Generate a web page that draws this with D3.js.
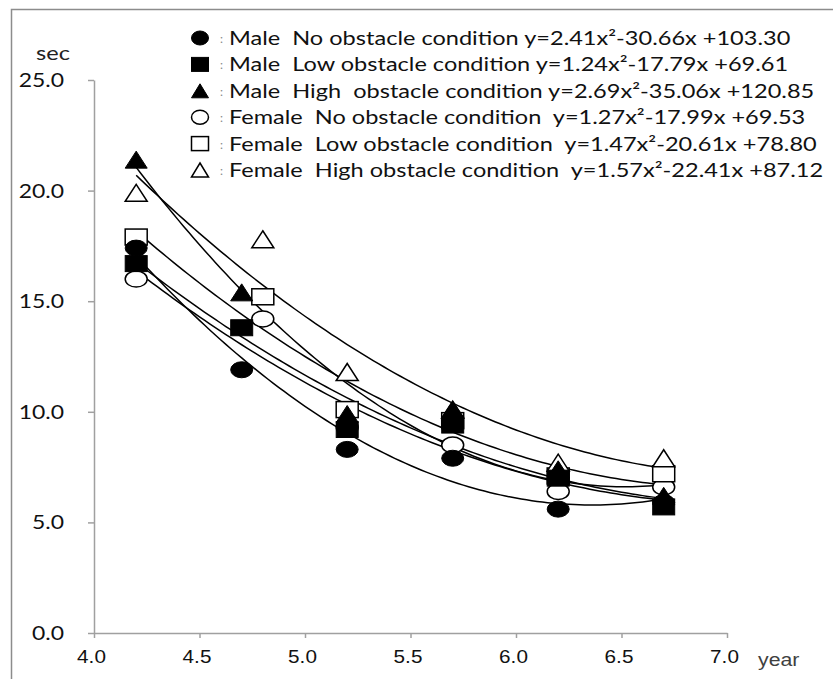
<!DOCTYPE html>
<html lang="en">
<head>
<meta charset="UTF-8">
<title>Obstacle walking time by age</title>
<style>
  body { margin: 0; background: #fff; }
  text { white-space: pre; }
</style>
</head>
<body>
<svg id="chart"></svg>
<script src="https://d3js.org/d3.v7.min.js"></script>
<script>
// ages where each group was measured
const agesMale = [4.2, 4.7, 5.2, 5.7, 6.2, 6.7];
const agesFemale = [4.2, 4.8, 5.2, 5.7, 6.2, 6.7];

// times in sec
const maleNo = [17.4, 11.9, 8.3, 7.9, 5.6, 5.9];
const maleLow = [16.7, 13.8, 9.2, 9.4, 7.0, 5.7];
const maleHigh = [21.4, 15.4, 9.9, 10.1, 7.4, 6.2];
const femaleNo = [16.0, 14.2, 9.3, 8.5, 6.4, 6.6];
const femaleLow = [17.9, 15.2, 10.1, 9.6, 7.1, 7.2];
const femaleHigh = [19.9, 17.8, 11.8, 10.1, 7.7, 7.9];

// quadratic trend coefficients [a, b, c] from the legend
const fitMaleNo = [2.41, -30.66, 103.30];
const fitMaleLow = [1.24, -17.79, 69.61];
const fitMaleHigh = [2.69, -35.06, 120.85];
const fitFemaleNo = [1.27, -17.99, 69.53];
const fitFemaleLow = [1.47, -20.61, 78.80];
const fitFemaleHigh = [1.57, -22.41, 87.12];

const legendLabels = [
  "Male  No obstacle condition y=2.41x²-30.66x +103.30",
  "Male  Low obstacle condition y=1.24x²-17.79x +69.61",
  "Male  High  obstacle condition y=2.69x²-35.06x +120.85",
  "Female  No obstacle condition  y=1.27x²-17.99x +69.53",
  "Female  Low obstacle condition  y=1.47x²-20.61x +78.80",
  "Female  High obstacle condition  y=1.57x²-22.41x +87.12"
];

const xTicks = [4.0, 4.5, 5.0, 5.5, 6.0, 6.5, 7.0];
const yTicks = [0, 5, 10, 15, 20, 25];

// draw order: females first, males over them
const series = [
  { ages: agesFemale, vals: femaleNo, fit: fitFemaleNo, shape: "circle", filled: false, leg: 3 },
  { ages: agesFemale, vals: femaleLow, fit: fitFemaleLow, shape: "square", filled: false, leg: 4 },
  { ages: agesFemale, vals: femaleHigh, fit: fitFemaleHigh, shape: "triangle", filled: false, leg: 5 },
  { ages: agesMale, vals: maleNo, fit: fitMaleNo, shape: "circle", filled: true, leg: 0 },
  { ages: agesMale, vals: maleLow, fit: fitMaleLow, shape: "square", filled: true, leg: 1 },
  { ages: agesMale, vals: maleHigh, fit: fitMaleHigh, shape: "triangle", filled: true, leg: 2 }
];

const W = 833, H = 679;
const stretch = 1.24; // the original is a bit wide

const svg = d3.select("#chart").attr("width", W).attr("height", H);

// outer frame
svg.append("rect")
  .attr("x", 11.5).attr("y", 9.5)
  .attr("width", W + 20).attr("height", H + 20)
  .attr("fill", "none").attr("stroke", "#8c8c8c").attr("stroke-width", 1.5);

const x = d3.scaleLinear().domain([4, 7]).range([94, 727]);
const y = d3.scaleLinear().domain([0, 25]).range([633, 80]);

const axisColor = "#a0a0a0";

// Y axis
const gy = svg.append("g")
  .attr("transform", "translate(" + x(4) + ",0)")
  .call(d3.axisLeft(y).tickValues(yTicks).tickSize(6).tickSizeOuter(0).tickFormat(d3.format(".1f")));
gy.selectAll("text")
  .attr("x", 0).attr("dy", null)
  .attr("transform", "translate(-30,6.5) scale(" + stretch + ",1)")
  .attr("fill", "#111")
  .style("font-family", "Lato, sans-serif").style("font-size", "18.5px");

// X axis
const gx = svg.append("g")
  .attr("transform", "translate(0," + y(0) + ")")
  .call(d3.axisBottom(x).tickValues(xTicks).tickSize(5).tickSizeOuter(0).tickFormat(d3.format(".1f")));
gx.selectAll("text")
  .attr("y", 0).attr("dy", null)
  .attr("transform", "translate(-3,30) scale(1.12,1)")
  .attr("fill", "#111")
  .style("font-family", "'Liberation Sans', Arial, sans-serif").style("font-size", "18.5px");

svg.selectAll(".domain, .tick line")
  .attr("stroke", axisColor).attr("stroke-width", 1.5);

// axis titles
svg.append("text")
  .attr("transform", "translate(36,60) scale(" + stretch + ",1)")
  .style("font-family", "Lato, sans-serif").style("font-size", "19px")
  .attr("fill", "#222")
  .text("sec");

svg.append("text")
  .attr("transform", "translate(758,666) scale(1.15,1)")
  .style("font-family", "'Liberation Sans', Arial, sans-serif").style("font-size", "18.5px")
  .attr("fill", "#404040")
  .text("year");

// trend curves
const line = d3.line().x(d => x(d[0])).y(d => y(d[1]));
const xs = d3.range(0, 101).map(i => 4.2 + i * (6.7 - 4.2) / 100);

svg.append("g").selectAll("path")
  .data(series).enter()
  .append("path")
  .attr("d", s => line(xs.map(v => [v, s.fit[0] * v * v + s.fit[1] * v + s.fit[2]])))
  .attr("fill", "none").attr("stroke", "#000").attr("stroke-width", 1.5);

// marker helper
function marker(g, shape, filled, w, h) {
  let el;
  if (shape === "circle") {
    el = g.append("ellipse").attr("rx", w / 2).attr("ry", h / 2);
  } else if (shape === "square") {
    el = g.append("rect").attr("x", -w / 2).attr("y", -h / 2).attr("width", w).attr("height", h);
  } else {
    el = g.append("path").attr("d", "M0," + (-h / 2) + "L" + (w / 2) + "," + (h / 2) + "L" + (-w / 2) + "," + (h / 2) + "Z");
  }
  el.attr("fill", filled ? "#000" : "#fff")
    .attr("stroke", "#000").attr("stroke-width", filled ? 1 : 1.5)
    .attr("stroke-linejoin", "miter");
}

// points
series.forEach(s => {
  const g = svg.append("g");
  s.vals.forEach((v, i) => {
    const p = g.append("g").attr("transform", "translate(" + x(s.ages[i]) + "," + y(v) + ")");
    const h = s.shape === "triangle" ? 17 : 16;
    marker(p, s.shape, s.filled, 22, h);
  });
});

// legend
const legend = svg.append("g");
series.forEach(s => {
  const ly = 38 + s.leg * 26.4;
  const sym = legend.append("g").attr("transform", "translate(200," + ly + ")");
  marker(sym, s.shape, s.filled, 17, 14);
  legend.append("text")
    .attr("transform", "translate(220," + (ly + 5) + ")")
    .attr("fill", "#888")
    .style("font-family", "Lato, sans-serif").style("font-size", "12px")
    .text(":");
  legend.append("text")
    .attr("transform", "translate(229," + (ly + 7) + ") scale(" + stretch + ",1)")
    .attr("fill", "#111")
    .style("font-family", "Lato, sans-serif").style("font-size", "19px")
    .text(legendLabels[s.leg]);
});
</script>
</body>
</html>
